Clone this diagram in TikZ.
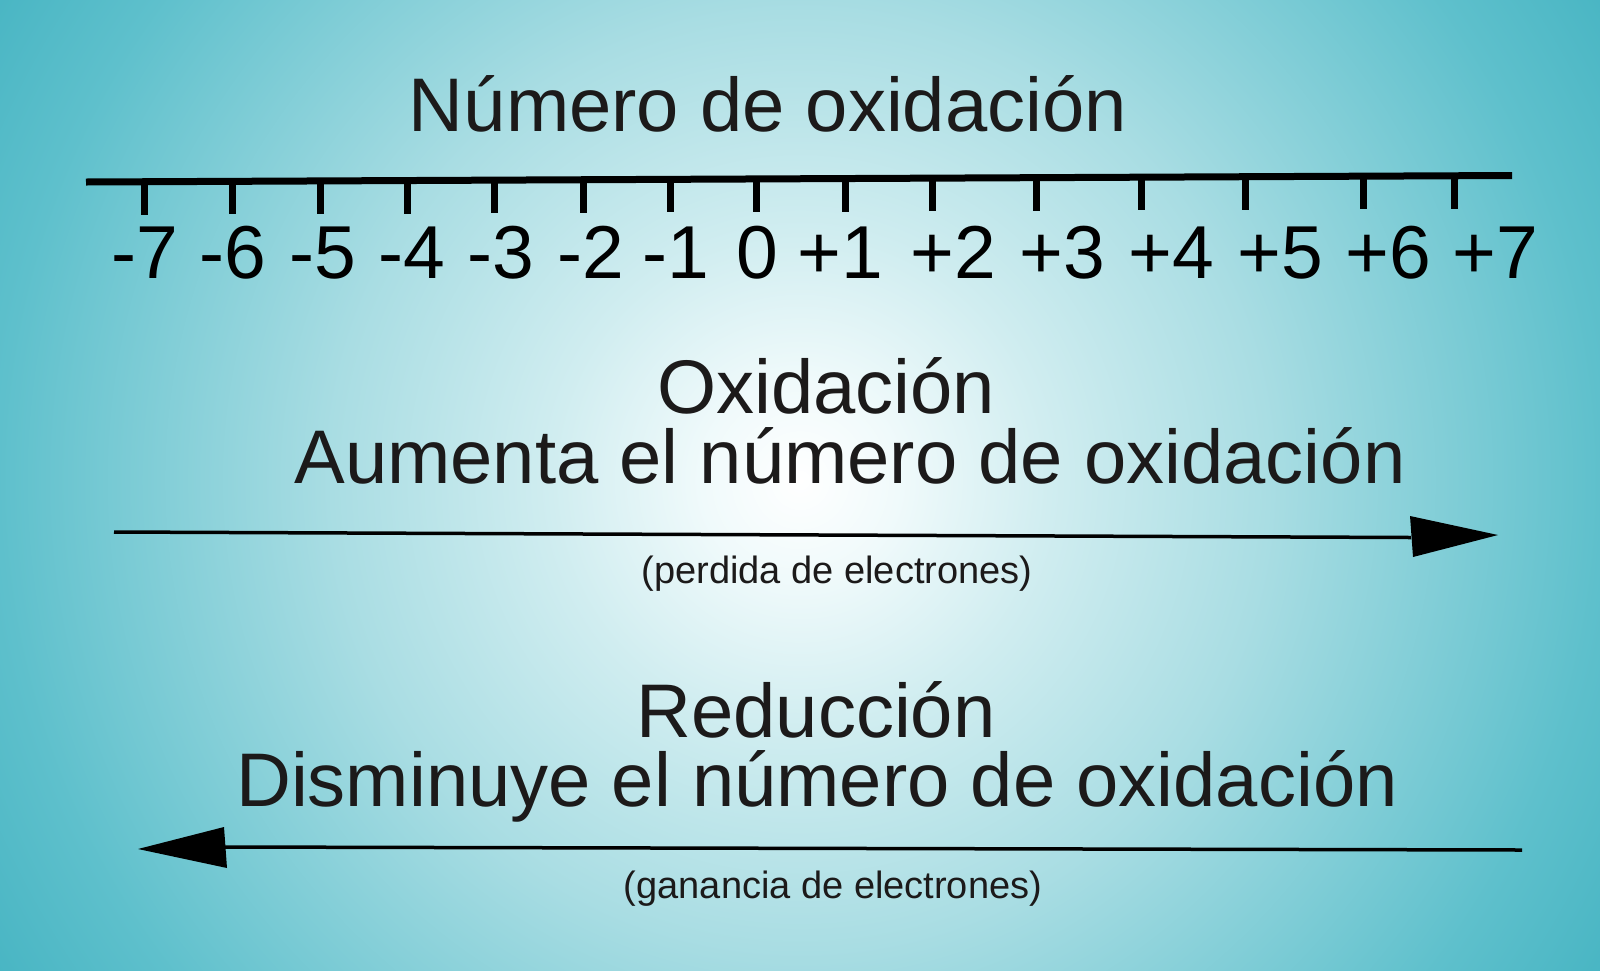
\documentclass[tikz,border=0pt]{standalone}
\usepackage{fontspec}
\setmainfont{Liberation Sans}
\usetikzlibrary{calc}
\definecolor{bgA}{HTML}{F0FAFB}
\definecolor{bgB}{HTML}{D0EDF0}
\definecolor{bgC}{HTML}{A9DDE3}
\definecolor{bgD}{HTML}{5EC0CC}
\definecolor{bgE}{HTML}{48B5C3}
\definecolor{headcol}{HTML}{1C1A1A}
\pgfdeclareradialshading{bgshade}{\pgfpoint{0bp}{0bp}}{color(0bp)=(white); color(2.6bp)=(bgA); color(6.6bp)=(bgB); color(12.4bp)=(bgC); color(21.2bp)=(bgD); color(25bp)=(bgE); color(50bp)=(bgE)}
\tikzset{
  big/.style={font=\fontsize{76}{90}\selectfont, text=headcol, inner sep=0pt, anchor=base},
  num/.style={font=\fontsize{75}{90}\selectfont, text=black, inner sep=0pt, anchor=base},
  small/.style={font=\fontsize{38}{46}\selectfont, text=headcol, inner sep=0pt, anchor=base},
  axisline/.style={line width=7pt, black},
  tickline/.style={line width=7pt, black},
  arrline/.style={line width=3.5pt, black},
  arrhead/.style={fill=black, draw=none}
}
\begin{document}
\begin{tikzpicture}[x=1pt,y=-1pt]
\useasboundingbox (0,0) rectangle (1600,970);
\begin{scope}
\clip (0,0) rectangle (1600,970);
\shade[shading=bgshade] (800,480) circle (945pt);
\end{scope}

% title
\node[big] (title) at (768,131) {Número de oxidación};

% axis
\coordinate (axL) at (86,182);
\coordinate (axR) at (1512,175.5);
\draw[axisline] (axL) -- (axR);

\foreach \tx/\lx/\lab [count=\i] in {145/145/-7, 233/233/-6, 320/323/-5, 408/412/-4, 495/501/-3, 583/591/-2, 670/676/-1, 757/757/0, 845/840/+1, 932/953/+2, 1036/1062/+3, 1141/1171/+4, 1245/1280/+5, 1363/1388/+6, 1454/1495/+7}{
  \coordinate (t\i) at ($(axL)!{(\tx-86)/1426}!(axR)$);
  \draw[tickline] (t\i) -- ++(0,33);
  \node[num] (n\i) at (\lx,278) {\lab};
}

% oxidation
\node[big] (ox) at (826,413) {Oxidación};
\node[big] (oxd) at (850,483) {Aumenta el número de oxidación};
\coordinate (a1s) at (114,532);
\coordinate (a1e) at (1411,537.5);
\coordinate (a1t) at (1498,535);
\draw[arrline] (a1s) -- (a1e);
\fill[arrhead] (1410,516) -- (a1t) -- (1413,557) -- cycle;
\node[small] (per) at (837,583) {(perdida de electrones)};

% reduction
\node[big] (red) at (816,737) {Reducción};
\node[big] (redd) at (817,806) {Disminuye el número de oxidación};
\coordinate (a2s) at (1522,850);
\coordinate (a2e) at (225,847);
\coordinate (a2t) at (138,849);
\draw[arrline] (a2s) -- (a2e);
\fill[arrhead] (224,827) -- (a2t) -- (227,868) -- cycle;
\node[small] (gan) at (833,898) {(ganancia de electrones)};
\end{tikzpicture}
\end{document}
